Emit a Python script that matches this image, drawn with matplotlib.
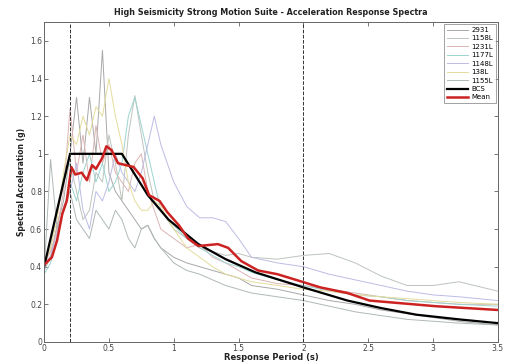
import matplotlib
matplotlib.use("Agg")
import matplotlib.pyplot as plt

periods = [0, 0.05, 0.1, 0.15, 0.2, 0.25, 0.3, 0.35, 0.4, 0.45, 0.5, 0.55, 0.6, 0.65,
           0.7, 0.75, 0.8, 0.85, 0.9, 1.0, 1.1, 1.2, 1.3, 1.4, 1.5, 1.6, 1.8, 2.0, 2.2,
           2.4, 2.6, 2.8, 3.0, 3.2, 3.5]

rec_2931 = [0.38, 0.45, 0.62, 0.75, 1.0, 1.3, 0.95, 1.3, 1.0, 1.55, 0.9, 0.8, 0.75, 0.7,
            0.65, 0.6, 0.62, 0.55, 0.5, 0.45, 0.42, 0.4, 0.38, 0.36, 0.34, 0.3, 0.28, 0.25,
            0.22, 0.2, 0.17, 0.15, 0.13, 0.11, 0.09]
rec_1158 = [0.4, 0.5, 0.7, 0.85, 0.95, 0.8, 0.65, 0.7, 0.9, 0.85, 1.1, 0.95, 0.75, 1.1,
            1.31, 1.1, 0.9, 0.75, 0.7, 0.6, 0.55, 0.5, 0.48, 0.46, 0.47, 0.45, 0.44, 0.46,
            0.47, 0.42, 0.35, 0.3, 0.3, 0.32, 0.27]
rec_1231 = [0.42, 0.48, 0.6, 0.8, 1.24, 0.9, 1.1, 0.85, 1.15, 0.95, 1.05, 0.9, 0.85, 0.8,
            0.95, 1.0, 0.8, 0.7, 0.6, 0.55, 0.5, 0.52, 0.45, 0.42, 0.38, 0.34, 0.31, 0.3,
            0.28, 0.26, 0.24, 0.22, 0.21, 0.2, 0.2]
rec_1177 = [0.36, 0.42, 0.55, 0.7, 0.85, 0.75, 0.9, 1.0, 0.85, 0.95, 0.8, 0.85, 0.95, 1.2,
            1.3, 1.15, 1.0, 0.85, 0.7, 0.62, 0.55, 0.5, 0.46, 0.42, 0.4, 0.37, 0.33, 0.3,
            0.27, 0.25, 0.24, 0.22, 0.21, 0.2, 0.19]
rec_1148 = [0.4, 0.46, 0.58, 0.72, 0.8, 0.95, 0.7, 0.6, 0.8, 0.75, 0.85, 1.0, 0.9, 0.85,
            0.8, 0.9, 1.05, 1.2, 1.05, 0.85, 0.72, 0.66, 0.66, 0.64, 0.55, 0.45, 0.42, 0.4,
            0.36, 0.33, 0.3, 0.27, 0.25, 0.24, 0.22]
rec_138 = [0.41, 0.5, 0.65, 0.9, 1.1, 1.05, 1.2, 1.1, 1.25, 1.2, 1.4, 1.2, 1.05, 0.85,
           0.75, 0.7, 0.7, 0.75, 0.72, 0.6, 0.5, 0.45, 0.4, 0.36, 0.34, 0.32, 0.3, 0.28,
           0.27, 0.25, 0.24, 0.23, 0.22, 0.21, 0.2]
rec_1155 = [0.37, 0.97, 0.6, 0.7, 0.8, 0.65, 0.6, 0.55, 0.7, 0.65, 0.6, 0.7, 0.65, 0.55,
            0.5, 0.6, 0.62, 0.55, 0.5, 0.42, 0.38, 0.36, 0.33, 0.3, 0.28, 0.26, 0.24, 0.22,
            0.19, 0.16, 0.14, 0.12, 0.11, 0.1, 0.09]

record_names = ["2931", "1158L", "1231L", "1177L", "1148L", "138L", "1155L"]
records = [rec_2931, rec_1158, rec_1231, rec_1177, rec_1148, rec_138, rec_1155]
record_colors = ["#a8a8a8", "#bcc4bc", "#dcb4b4", "#9cd4d0", "#bcbce4", "#e4dc9c", "#b0b8b8"]

bcs_T = [0, 0.2, 0.6, 0.8, 0.96, 1.19, 1.4, 1.63, 2.0, 2.34, 2.6, 2.87, 3.2, 3.5]
bcs_sa = [0.4, 1.0, 1.0, 0.78, 0.65, 0.52, 0.44, 0.37, 0.29, 0.22, 0.18, 0.145, 0.12, 0.10]

mean_T = [0, 0.06, 0.1, 0.14, 0.175, 0.21, 0.24, 0.29, 0.33, 0.37, 0.40, 0.45, 0.48, 0.52,
          0.57, 0.63, 0.69, 0.76, 0.81, 0.89, 0.95, 1.04, 1.11, 1.19, 1.34, 1.42, 1.52,
          1.65, 1.80, 1.99, 2.13, 2.34, 2.51, 3.02, 3.5]
mean_sa = [0.41, 0.45, 0.54, 0.68, 0.75, 0.93, 0.89, 0.9, 0.86, 0.94, 0.92, 0.98, 1.04, 1.02,
           0.95, 0.94, 0.93, 0.87, 0.78, 0.75, 0.69, 0.62, 0.55, 0.51, 0.52, 0.50, 0.43,
           0.38, 0.36, 0.32, 0.29, 0.26, 0.22, 0.19, 0.17]

fig = plt.figure(figsize=(5.07, 3.63), dpi=100)
ax = fig.add_axes([0.087, 0.058, 0.895, 0.881])

for name, vals, c in zip(record_names, records, record_colors):
    ax.plot(periods, vals, color=c, lw=0.7, label=name)
ax.plot(bcs_T, bcs_sa, color="black", lw=1.6, label="BCS")
ax.plot(mean_T, mean_sa, color="#cc2222", lw=1.8, label="Mean")

ax.axvline(0.2, color="#333333", ls="--", lw=0.7)
ax.axvline(2.0, color="#333333", ls="--", lw=0.7)

ax.set_xlim(0, 3.5)
ax.set_ylim(0, 1.7)
ax.set_xticks([0, 0.5, 1, 1.5, 2, 2.5, 3, 3.5])
ax.set_xticklabels(["0", "0.5", "1", "1.5", "2", "2.5", "3", "3.5"])
ax.set_yticks([0, 0.2, 0.4, 0.6, 0.8, 1, 1.2, 1.4, 1.6])
ax.set_yticklabels(["0", "0.2", "0.4", "0.6", "0.8", "1", "1.2", "1.4", "1.6"])
ax.tick_params(direction="in", top=True, right=True, labelsize=5.5, length=3, width=0.5, pad=1.5, colors="#444444")
for s in ax.spines.values():
    s.set_color("#666666")
    s.set_linewidth(0.7)

ax.set_title("High Seismicity Strong Motion Suite - Acceleration Response Spectra",
             fontsize=5.8, fontweight="bold", pad=5, color="#222222")
ax.set_xlabel("Response Period (s)", fontsize=6, fontweight="bold", labelpad=0, color="#222222")
ax.set_ylabel("Spectral Acceleration (g)", fontsize=5.5, fontweight="bold", labelpad=3, color="#222222")

leg = ax.legend(loc="upper right", fontsize=5, frameon=True, fancybox=False,
                handlelength=3, borderpad=0.4, labelspacing=0.35, handletextpad=0.5,
                borderaxespad=0.3)
leg.get_frame().set_edgecolor("#777777")
leg.get_frame().set_linewidth(0.6)

fig.savefig("out.png", dpi=100)
